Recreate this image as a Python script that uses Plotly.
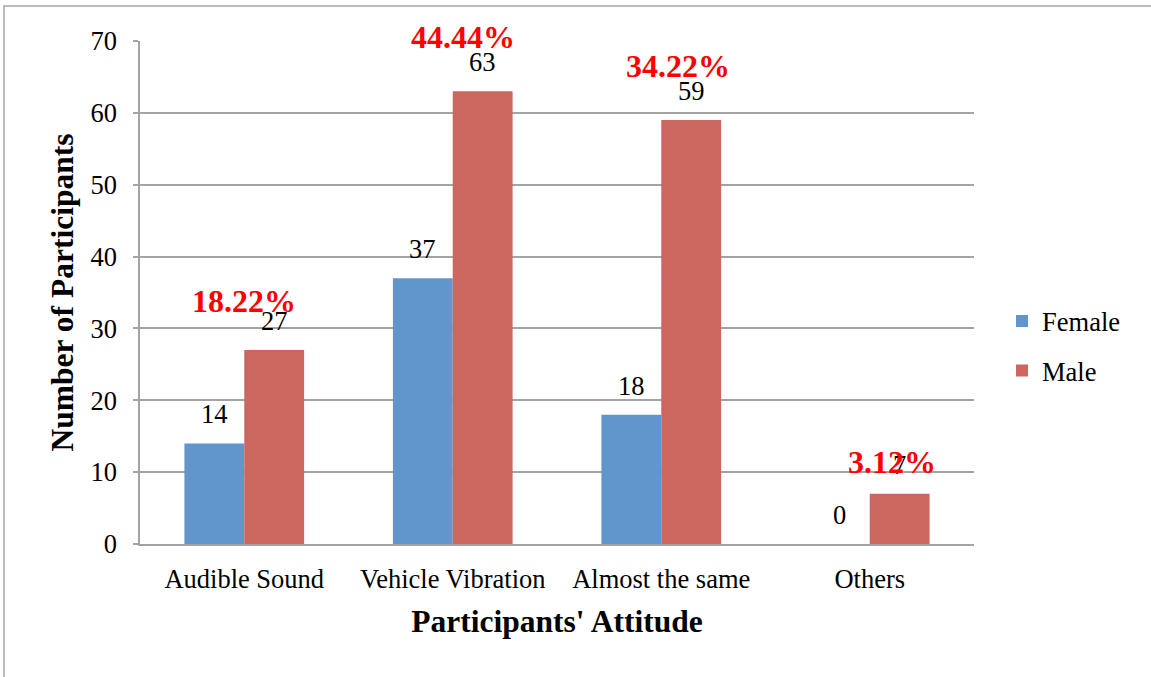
import plotly.graph_objects as go

categories = ["Audible Sound", "Vehicle Vibration", "Almost the same", "Others"]
female = [14, 37, 18, 0]
male = [27, 63, 59, 7]
percent_labels = ["18.22%", "44.44%", "34.22%", "3.12%"]
percent_y = [33.8, 70.5, 66.5, 11.4]
percent_dx = [0.0, 0.05, 0.08, 0.105]

FONT = "Liberation Serif"
BLUE = "#6096cc"
RED = "#cc6760"
GRID = "#a3a3a3"
YMAX = 70

xpos = list(range(len(categories)))
bargap = 0.426
half = (1 - bargap) / 2

fig = go.Figure()
fig.add_trace(go.Bar(x=xpos, y=female, name="Female", marker_color=BLUE,
                     marker_line_width=0, legendgroup="f"))
fig.add_trace(go.Bar(x=xpos, y=male, name="Male", marker_color=RED,
                     marker_line_width=0, legendgroup="m"))

small = dict(family=FONT, size=26.5, color="black")
annotations = []
for i in xpos:
    annotations.append(dict(x=i - half / 2, y=female[i], text=str(female[i]), xref="x", yref="y",
                            showarrow=False, yanchor="middle", yshift=29, font=small))
    annotations.append(dict(x=i + half / 2, y=male[i], text=str(male[i]), xref="x", yref="y",
                            showarrow=False, yanchor="middle", yshift=29, font=small))
for i in xpos:
    annotations.append(dict(x=i + percent_dx[i], y=percent_y[i] / YMAX, text="<b>%s</b>" % percent_labels[i],
                            xref="x", yref="paper", showarrow=False, yanchor="middle",
                            font=dict(family=FONT, size=32, color="#ff0000")))

fig.update_layout(
    width=1151, height=677,
    margin=dict(l=140, r=177, t=41, b=133, autoexpand=False),
    paper_bgcolor="white", plot_bgcolor="white",
    barmode="group", bargap=bargap, bargroupgap=0,
    font=small,
    legend=dict(x=1.0336, y=0.394, xanchor="left", yanchor="middle",
                font=small, tracegroupgap=12, itemwidth=30, bgcolor="rgba(0,0,0,0)"),
    annotations=annotations,
    shapes=[dict(type="rect", xref="paper", yref="paper", x0=-0.1631, x1=1.5, y0=-0.5, y1=1.0696,
                 line=dict(color="#a6a6a6", width=1.5), fillcolor="rgba(0,0,0,0)", layer="below")],
)
fig.update_xaxes(
    tickmode="array", tickvals=xpos, ticktext=categories, range=[-0.5, 3.5],
    showgrid=False, showline=True, linecolor=GRID, linewidth=1.5, ticks="",
    tickfont=small, ticklabelstandoff=10, automargin=False,
    title=dict(text="<b>Participants' Attitude</b>", font=dict(family=FONT, size=31.5, color="black"), standoff=17),
)
fig.update_yaxes(
    range=[0, YMAX], dtick=10, showgrid=True, gridcolor=GRID, gridwidth=1.5,
    showline=True, linecolor=GRID, linewidth=1.5, ticks="outside", ticklen=5, tickcolor=GRID, tickwidth=1.5,
    zeroline=False, tickfont=small, ticklabelstandoff=11, automargin=False,
    title=dict(text="<b>Number of Participants</b>", font=dict(family=FONT, size=31.5, color="black"), standoff=7),
)

fig.write_html("out.html", config={"displayModeBar": False},
               post_script="document.body.style.margin='0px';")
